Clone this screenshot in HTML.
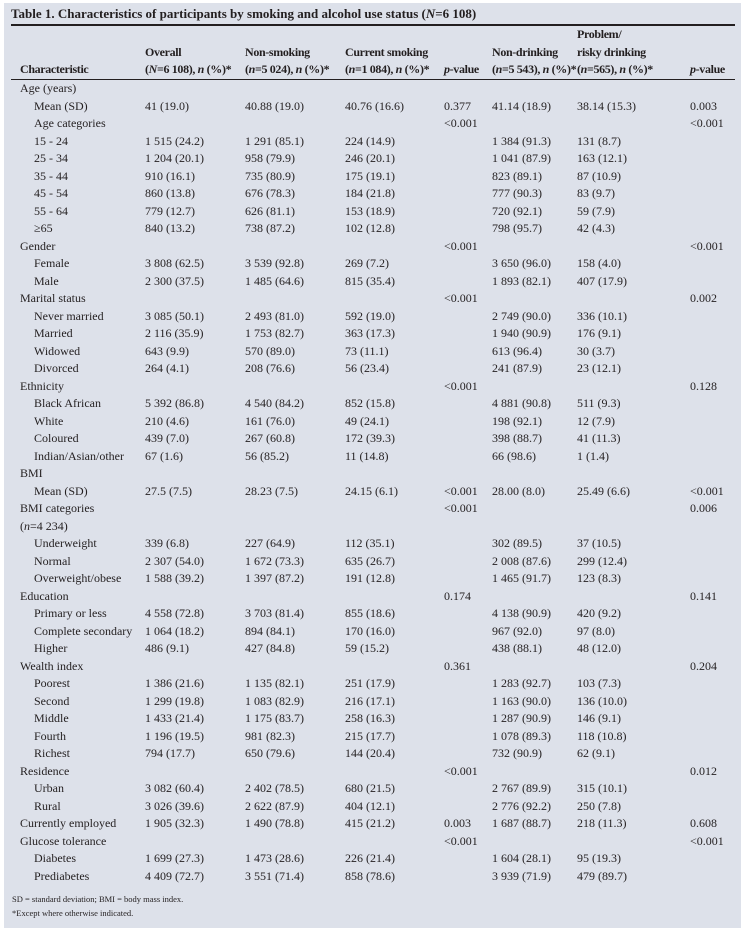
<!DOCTYPE html>
<html><head><meta charset="utf-8"><style>
body{margin:0;width:745px;height:934px;background:#fff;position:relative;overflow:hidden;font-family:"Liberation Serif",serif;color:#231f20}
#panel{position:absolute;left:4px;top:3px;width:737px;height:925px;background:#dde1ea}
.t{position:absolute;white-space:nowrap;font-size:12px;line-height:14px}
.h{font-weight:bold;letter-spacing:-0.35px}
#title{position:absolute;left:11px;top:6px;font-size:13px;font-weight:bold;white-space:nowrap}
.rule{position:absolute;left:11px;width:724px;background:#231f20}
.fn{position:absolute;left:12px;font-size:8.5px;white-space:nowrap}
</style></head><body>
<div id="panel"></div>
<div id="title">Table 1. Characteristics of participants by smoking and alcohol use status (<i>N</i>=6 108)</div>
<div class="rule" style="top:24px;height:2px"></div>
<div class="rule" style="top:79px;height:1px"></div>
<div id="tbl"></div>
<div class="fn" style="top:894px">SD = standard deviation; BMI = body mass index.</div>
<div class="fn" style="top:908px">*Except where otherwise indicated.</div>
<script>
const colX=[20,145,245,345,444,492,577,690];
const headers=[
 ["Characteristic"],
 ["Overall","(<i>N</i>=6 108), <i>n</i> (%)*"],
 ["Non-smoking","(<i>n</i>=5 024), <i>n</i> (%)*"],
 ["Current smoking","(<i>n</i>=1 084), <i>n</i> (%)*"],
 ["<i>p</i>-value"],
 ["Non-drinking","(<i>n</i>=5 543), <i>n</i> (%)*"],
 ["Problem/","risky drinking","(<i>n</i>=565), <i>n</i> (%)*"],
 ["<i>p</i>-value"]
];
const rows=[
["Age (years)",0],
["Mean (SD)",1,"41 (19.0)","40.88 (19.0)","40.76 (16.6)","0.377","41.14 (18.9)","38.14 (15.3)","0.003"],
["Age categories",1,"","","","&lt;0.001","","","&lt;0.001"],
["15 - 24",2,"1 515 (24.2)","1 291 (85.1)","224 (14.9)","","1 384 (91.3)","131 (8.7)",""],
["25 - 34",2,"1 204 (20.1)","958 (79.9)","246 (20.1)","","1 041 (87.9)","163 (12.1)",""],
["35 - 44",2,"910 (16.1)","735 (80.9)","175 (19.1)","","823 (89.1)","87 (10.9)",""],
["45 - 54",2,"860 (13.8)","676 (78.3)","184 (21.8)","","777 (90.3)","83 (9.7)",""],
["55 - 64",2,"779 (12.7)","626 (81.1)","153 (18.9)","","720 (92.1)","59 (7.9)",""],
["≥65",2,"840 (13.2)","738 (87.2)","102 (12.8)","","798 (95.7)","42 (4.3)",""],
["Gender",0,"","","","&lt;0.001","","","&lt;0.001"],
["Female",1,"3 808 (62.5)","3 539 (92.8)","269 (7.2)","","3 650 (96.0)","158 (4.0)",""],
["Male",1,"2 300 (37.5)","1 485 (64.6)","815 (35.4)","","1 893 (82.1)","407 (17.9)",""],
["Marital status",0,"","","","&lt;0.001","","","0.002"],
["Never married",1,"3 085 (50.1)","2 493 (81.0)","592 (19.0)","","2 749 (90.0)","336 (10.1)",""],
["Married",1,"2 116 (35.9)","1 753 (82.7)","363 (17.3)","","1 940 (90.9)","176 (9.1)",""],
["Widowed",1,"643 (9.9)","570 (89.0)","73 (11.1)","","613 (96.4)","30 (3.7)",""],
["Divorced",1,"264 (4.1)","208 (76.6)","56 (23.4)","","241 (87.9)","23 (12.1)",""],
["Ethnicity",0,"","","","&lt;0.001","","","0.128"],
["Black African",1,"5 392 (86.8)","4 540 (84.2)","852 (15.8)","","4 881 (90.8)","511 (9.3)",""],
["White",1,"210 (4.6)","161 (76.0)","49 (24.1)","","198 (92.1)","12 (7.9)",""],
["Coloured",1,"439 (7.0)","267 (60.8)","172 (39.3)","","398 (88.7)","41 (11.3)",""],
["Indian/Asian/other",1,"67 (1.6)","56 (85.2)","11 (14.8)","","66 (98.6)","1 (1.4)",""],
["BMI",0],
["Mean (SD)",1,"27.5 (7.5)","28.23 (7.5)","24.15 (6.1)","&lt;0.001","28.00 (8.0)","25.49 (6.6)","&lt;0.001"],
["BMI categories",0,"","","","&lt;0.001","","","0.006"],
["(<i>n</i>=4 234)",0],
["Underweight",1,"339 (6.8)","227 (64.9)","112 (35.1)","","302 (89.5)","37 (10.5)",""],
["Normal",1,"2 307 (54.0)","1 672 (73.3)","635 (26.7)","","2 008 (87.6)","299 (12.4)",""],
["Overweight/obese",1,"1 588 (39.2)","1 397 (87.2)","191 (12.8)","","1 465 (91.7)","123 (8.3)",""],
["Education",0,"","","","0.174","","","0.141"],
["Primary or less",1,"4 558 (72.8)","3 703 (81.4)","855 (18.6)","","4 138 (90.9)","420 (9.2)",""],
["Complete secondary",1,"1 064 (18.2)","894 (84.1)","170 (16.0)","","967 (92.0)","97 (8.0)",""],
["Higher",1,"486 (9.1)","427 (84.8)","59 (15.2)","","438 (88.1)","48 (12.0)",""],
["Wealth index",0,"","","","0.361","","","0.204"],
["Poorest",1,"1 386 (21.6)","1 135 (82.1)","251 (17.9)","","1 283 (92.7)","103 (7.3)",""],
["Second",1,"1 299 (19.8)","1 083 (82.9)","216 (17.1)","","1 163 (90.0)","136 (10.0)",""],
["Middle",1,"1 433 (21.4)","1 175 (83.7)","258 (16.3)","","1 287 (90.9)","146 (9.1)",""],
["Fourth",1,"1 196 (19.5)","981 (82.3)","215 (17.7)","","1 078 (89.3)","118 (10.8)",""],
["Richest",1,"794 (17.7)","650 (79.6)","144 (20.4)","","732 (90.9)","62 (9.1)",""],
["Residence",0,"","","","&lt;0.001","","","0.012"],
["Urban",1,"3 082 (60.4)","2 402 (78.5)","680 (21.5)","","2 767 (89.9)","315 (10.1)",""],
["Rural",1,"3 026 (39.6)","2 622 (87.9)","404 (12.1)","","2 776 (92.2)","250 (7.8)",""],
["Currently employed",0,"1 905 (32.3)","1 490 (78.8)","415 (21.2)","0.003","1 687 (88.7)","218 (11.3)","0.608"],
["Glucose tolerance",0,"","","","&lt;0.001","","","&lt;0.001"],
["Diabetes",1,"1 699 (27.3)","1 473 (28.6)","226 (21.4)","","1 604 (28.1)","95 (19.3)",""],
["Prediabetes",1,"4 409 (72.7)","3 551 (71.4)","858 (78.6)","","3 939 (71.9)","479 (89.7)",""]
];
const tbl=document.getElementById('tbl');
const hdrBottom=62, rowTop=81, rowH=17.5, indentPx=[0,14,14];
headers.forEach((lines,c)=>{
  lines.forEach((txt,i)=>{
    const d=document.createElement('div');
    d.className='t h';
    
    
    d.style.left=colX[c]+'px';
    d.style.top=(hdrBottom-(lines.length-1-i)*17.5)+'px';
    d.innerHTML=txt;
    tbl.appendChild(d);
  });
});
rows.forEach((r,i)=>{
  const y=rowTop+i*rowH;
  for(let c=0;c<8;c++){
    const txt=c===0?r[0]:(r[c+1]||'');
    if(!txt) continue;
    const d=document.createElement('div');
    d.className='t';
    
    
    d.style.left=(colX[c]+(c===0?indentPx[r[1]]:0))+'px';
    d.style.top=y+'px';
    d.innerHTML=txt;
    tbl.appendChild(d);
  }
});
</script>
</body></html>
